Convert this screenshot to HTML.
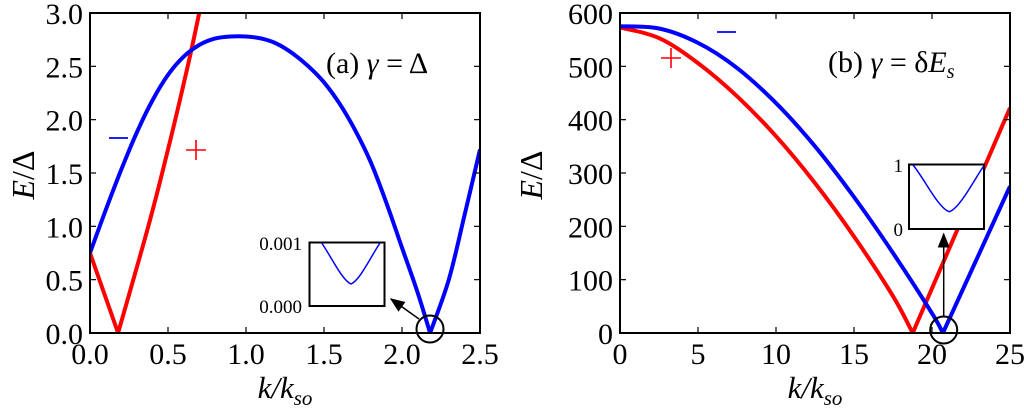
<!DOCTYPE html>
<html><head><meta charset="utf-8"><style>
html,body{margin:0;padding:0;background:#fff;}
svg{display:block;}
text{font-family:"Liberation Serif","DejaVu Serif",serif;}
</style></head><body>
<svg id="fig" width="1024" height="410" viewBox="0 0 1024 410" xmlns="http://www.w3.org/2000/svg"></svg>
<script>
// Panel (a) data
const aBlueK = [0,0.1,0.2,0.3,0.4,0.5,0.6,0.7,0.8,0.9,1.0,1.1,1.2,1.3,1.4,1.5,1.6,1.7,1.8,1.9,2.0,2.1,2.18,2.3,2.4,2.5];
const aBlueE = [0.75,1.15,1.53,1.88,2.18,2.42,2.59,2.70,2.76,2.78,2.78,2.76,2.71,2.62,2.50,2.35,2.15,1.90,1.60,1.22,0.80,0.38,0.0,0.50,1.10,1.72];
const aRedK = [0,0.18,0.374,0.5,0.626,0.70,0.72];
const aRedE = [0.75,0,1.0,1.72,2.5,3.0,3.15];
const aXTicks = [0,0.5,1.0,1.5,2.0,2.5];
const aXLabels = ["0.0","0.5","1.0","1.5","2.0","2.5"];
const aYTicks = [0,0.5,1.0,1.5,2.0,2.5,3.0];
const aYLabels = ["0.0","0.5","1.0","1.5","2.0","2.5","3.0"];
// Panel (b) data
const bBlueK = [0,2.5,5,7.5,10,12.5,15,17.5,20,20.7,25];
const bBlueE = [575,571,544,497,431,350,255,150,37,0,275];
const bRedK = [0,2.5,5,7.5,10,12.5,15,17.5,18.76,25];
const bRedE = [573,553,506,444,369,281,181,69,0,422];
const bXTicks = [0,5,10,15,20,25];
const bXLabels = ["0","5","10","15","20","25"];
const bYTicks = [0,100,200,300,400,500,600];
const bYLabels = ["0","100","200","300","400","500","600"];

const NS="http://www.w3.org/2000/svg";
const svg=document.getElementById('fig');
const FF='Liberation Serif, DejaVu Serif, serif';
function mk(tag,attrs,parent){const e=document.createElementNS(NS,tag);for(const k in attrs)e.setAttribute(k,attrs[k]);(parent||svg).appendChild(e);return e;}

function smoothPath(pts,isKink){
  let d='M'+pts[0][0].toFixed(1)+' '+pts[0][1].toFixed(1);
  for(let i=0;i<pts.length-1;i++){
    const p1=pts[i],p2=pts[i+1];
    const p0=(i>0&&!isKink[i])?pts[i-1]:p1;
    const p3=(i+2<pts.length&&!isKink[i+1])?pts[i+2]:p2;
    const c1=[p1[0]+(p2[0]-p0[0])/6,p1[1]+(p2[1]-p0[1])/6];
    const c2=[p2[0]-(p3[0]-p1[0])/6,p2[1]-(p3[1]-p1[1])/6];
    d+=' C'+c1[0].toFixed(1)+' '+c1[1].toFixed(1)+' '+c2[0].toFixed(1)+' '+c2[1].toFixed(1)+' '+p2[0].toFixed(1)+' '+p2[1].toFixed(1);
  }
  return d;
}

function panel(p){
  const g=mk('g',{});
  
  
  const sx=v=>p.x0+(v-p.xmin)/(p.xmax-p.xmin)*(p.x1-p.x0);
  const sy=v=>p.y0-(v-p.ymin)/(p.ymax-p.ymin)*(p.y0-p.y1);
  const clip=mk('clipPath',{id:p.name+'-clip'},g);
  mk('rect',{x:p.x0,y:p.y1,width:p.x1-p.x0,height:p.y0-p.y1},clip);
  p.series.forEach(s=>{
    const pts=s.k.map((k,i)=>[sx(k),sy(s.e[i])]);
    const kinks=s.e.map(v=>v===0);
    const path=mk('path',{d:smoothPath(pts,kinks),fill:'none',stroke:s.color,'stroke-width':4,'stroke-linejoin':'miter','clip-path':'url(#'+p.name+'-clip)'},g);
    
    
  });
  const fr=mk('rect',{x:p.x0,y:p.y1,width:p.x1-p.x0,height:p.y0-p.y1,fill:'none',stroke:'#000','stroke-width':2},g);
  
  
  p.xt.forEach((v,i)=>{
    const x=sx(v);
    mk('line',{x1:x,y1:p.y0,x2:x,y2:p.y0-6,stroke:'#000','stroke-width':1.2},g);
    mk('line',{x1:x,y1:p.y1,x2:x,y2:p.y1+6,stroke:'#000','stroke-width':1.2},g);
    const t=mk('text',{x:x,y:p.y0+31,'text-anchor':'middle','font-size':30,'font-family':FF},g);
    t.textContent=p.xl[i];
    
    
  });
  p.yt.forEach((v,i)=>{
    const y=sy(v);
    mk('line',{x1:p.x0,y1:y,x2:p.x0+6,y2:y,stroke:'#000','stroke-width':1.2},g);
    mk('line',{x1:p.x1,y1:y,x2:p.x1-6,y2:y,stroke:'#000','stroke-width':1.2},g);
    const t=mk('text',{x:p.x0-7,y:y+11,'text-anchor':'end','font-size':30,'font-family':FF},g);
    t.textContent=p.yl[i];
    
    
  });
  const xt=mk('text',{x:(p.x0+p.x1)/2,y:398,'text-anchor':'middle','font-size':31,'font-style':'italic','font-family':FF},g);
  xt.innerHTML='k/k<tspan font-size="21" dy="7">so</tspan>';
  
  
  const yt=mk('text',{x:0,y:0,'text-anchor':'middle','font-size':32,'font-family':FF,transform:'translate('+p.ytx+',175) rotate(-90)'},g);
  yt.innerHTML='<tspan font-style="italic">E</tspan>/Δ';
  
  
  return g;
}

panel({name:'panel-a',x0:90,x1:480,y0:333,y1:13,xmin:0,xmax:2.5,ymin:0,ymax:3,
  xt:aXTicks,xl:aXLabels,yt:aYTicks,yl:aYLabels,ytx:34,
  series:[{name:'red-plus-band-a',k:aRedK,e:aRedE,color:'#ff0000'},{name:'blue-minus-band-a',k:aBlueK,e:aBlueE,color:'#0000ff'}]});
panel({name:'panel-b',x0:620,x1:1010,y0:333,y1:13,xmin:0,xmax:25,ymin:0,ymax:600,
  xt:bXTicks,xl:bXLabels,yt:bYTicks,yl:bYLabels,ytx:542,
  series:[{name:'red-plus-band-b',k:bRedK,e:bRedE,color:'#ff0000'},{name:'blue-minus-band-b',k:bBlueK,e:bBlueE,color:'#0000ff'}]});
</script>
<svg width="1024" height="410" style="position:absolute;left:0;top:0" xmlns="http://www.w3.org/2000/svg">
  <defs><marker id="ah" markerWidth="10" markerHeight="8" refX="9" refY="4" orient="auto"><path d="M0,0 L10,4 L0,8 Z" fill="#000"/></marker></defs>
  <g font-family="Liberation Serif, DejaVu Serif, serif">
    <text x="326" y="73" font-size="30">(a) <tspan font-style="italic">γ</tspan> = Δ</text>
    <text x="828" y="72" font-size="30">(b) <tspan font-style="italic">γ</tspan> = δ<tspan font-style="italic">E</tspan><tspan font-size="20" dy="6" font-style="italic">s</tspan></text>
    <line x1="109" y1="138" x2="128" y2="138" stroke="#0000ff" stroke-width="1.8"/>
    <g stroke="#ff0000" stroke-width="1.6"><line x1="186" y1="150" x2="206" y2="150"/><line x1="196" y1="140" x2="196" y2="160"/></g>
    <line x1="717" y1="32" x2="736" y2="32" stroke="#0000ff" stroke-width="1.8"/>
    <g stroke="#ff0000" stroke-width="1.6"><line x1="661" y1="58" x2="681" y2="58"/><line x1="671" y1="48" x2="671" y2="68"/></g>
    <circle cx="430" cy="329" r="13.5" fill="none" stroke="#000" stroke-width="2"/>
    <line x1="419" y1="319" x2="391" y2="299" stroke="#000" stroke-width="1.5" marker-end="url(#ah)"/>
    <g>
      <rect x="309.5" y="242.5" width="75" height="63.5" fill="#fff" stroke="#000" stroke-width="2"/>
      <path d="M321.7 243 C332 258 342 280 351 284 C360 280 370 258 380 243" fill="none" stroke="#0000ff" stroke-width="1.5"/>
      <text x="302" y="250" font-size="19" text-anchor="end">0.001</text>
      <text x="302" y="313" font-size="19" text-anchor="end">0.000</text>
    </g>
    <circle cx="943.7" cy="330" r="13.5" fill="none" stroke="#000" stroke-width="2"/>
    <line x1="943.7" y1="317" x2="943.7" y2="234" stroke="#000" stroke-width="1.5" marker-end="url(#ah)"/>
    <g>
      <rect x="909" y="164.5" width="75" height="64.5" fill="#fff" stroke="#000" stroke-width="2"/>
      <path d="M913 165 C924 178 938 208 949.3 211.7 C960 208 974 180 983.7 166" fill="none" stroke="#0000ff" stroke-width="1.5"/>
      <text x="903" y="172" font-size="19" text-anchor="end">1</text>
      <text x="903" y="236" font-size="19" text-anchor="end">0</text>
    </g>
  </g>
</svg>
</body></html>
